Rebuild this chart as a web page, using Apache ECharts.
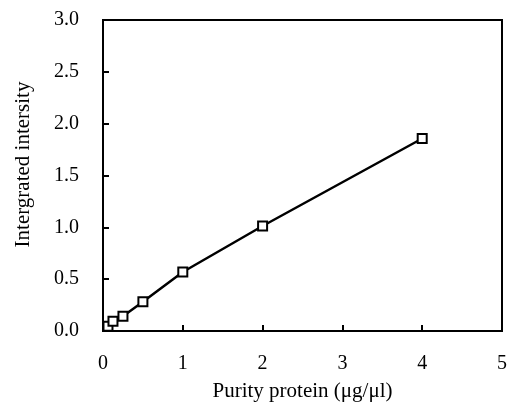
<!DOCTYPE html>
<html>
<head>
<meta charset="utf-8">
<script src="https://cdn.jsdelivr.net/npm/echarts@6/dist/echarts.min.js"></script>
<style>
  html, body { margin: 0; padding: 0; background: #fff; }
  #chart { width: 510px; height: 407px; }
</style>
</head>
<body>
<div id="chart"></div>
<script>
// protein concentration (µg/µl) vs integrated intensity
const concentration = [0.0625, 0.125, 0.25, 0.5, 1, 2, 4];
const intensity = [0.045, 0.095, 0.143, 0.283, 0.569, 1.013, 1.857];

const xTitle = 'Purity protein (μg/μl)';
const yTitle = 'Intergrated intersity';

const font = 'Liberation Serif, Times New Roman, serif';

const chart = echarts.init(document.getElementById('chart'));

chart.setOption({
  animation: false,
  backgroundColor: '#fff',
  grid: {
    left: 103, right: 3, top: 20, bottom: 71,
    show: true,
    borderColor: '#000',
    borderWidth: 2
  },
  xAxis: {
    type: 'value',
    min: 0, max: 5, interval: 1,
    name: xTitle,
    nameLocation: 'middle',
    nameGap: 50,
    nameTextStyle: { fontFamily: font, fontSize: 21, color: '#000' },
    axisLine: { lineStyle: { color: '#000', width: 2 } },
    axisTick: { show: true, inside: true, length: 6, lineStyle: { color: '#000', width: 2 } },
    axisLabel: { fontFamily: font, fontSize: 20, color: '#000', margin: 23 },
    splitLine: { show: false }
  },
  yAxis: {
    type: 'value',
    min: 0, max: 3, interval: 0.5,
    name: yTitle,
    nameLocation: 'middle',
    nameGap: 69,
    // title sits a little above the plot's middle
    nameTextStyle: { fontFamily: font, fontSize: 21, color: '#000', padding: [0, 0, 0, 22] },
    axisLine: { show: true, lineStyle: { color: '#000', width: 2 } },
    axisTick: { show: true, inside: true, length: 6, lineStyle: { color: '#000', width: 2 } },
    axisLabel: {
      fontFamily: font, fontSize: 20, color: '#000', margin: 24,
      formatter: v => v.toFixed(1)
    },
    splitLine: { show: false }
  },
  series: [{
    type: 'line',
    data: concentration.map((c, i) => [c, intensity[i]]),
    symbol: 'rect',
    symbolSize: 9,
    itemStyle: { color: '#fff', borderColor: '#000', borderWidth: 2 },
    lineStyle: { color: '#000', width: 2.5 }
  }]
});
</script>
</body>
</html>
